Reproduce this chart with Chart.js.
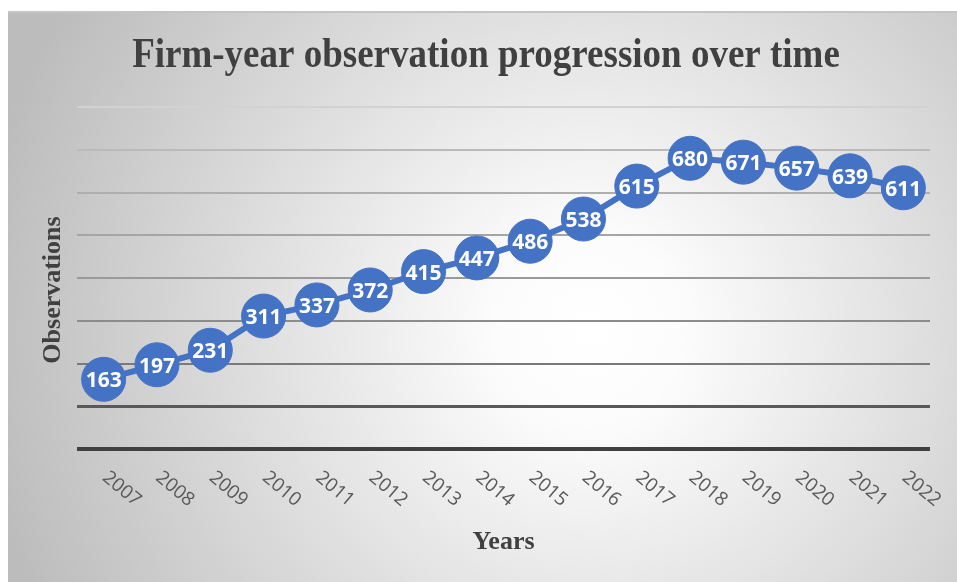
<!DOCTYPE html>
<html>
<head>
<meta charset="utf-8">
<script src="https://cdn.jsdelivr.net/npm/chart.js@4/dist/chart.umd.min.js"></script>
<style>
  html, body { margin: 0; padding: 0; background: #fff; }
  #wrap { width: 957px; height: 582px; }
</style>
</head>
<body>
<div id="wrap"><canvas id="obsChart" width="957" height="582"></canvas></div>
<script>
const chartTitle = "Firm-year observation progression over time";
const years = ["2007", "2008", "2009", "2010", "2011", "2012", "2013", "2014",
  "2015", "2016", "2017", "2018", "2019", "2020", "2021", "2022"];
const observations = [163, 197, 231, 311, 337, 372, 415, 447, 486, 538, 615, 680, 671, 657, 639, 611];
const yMin = 0, yMax = 800, yStep = 100;

const BLUE = "#4472C4";
// gridlines get darker toward the bottom, like the excel original
const gridShades = ["#404040", "#595959", "#7a7a7a", "#8c8c8c", "#9a9a9a", "#a5a5a5", "#afafaf", "#bababa", "#d2d2d2"];

const excelLook = {
  id: "excelLook",
  beforeDraw(chart) {
    const ctx = chart.ctx;
    ctx.save();
    const g = ctx.createRadialGradient(590, 330, 0, 590, 330, 620);
    g.addColorStop(0, "#ffffff");
    g.addColorStop(0.15, "#fcfcfc");
    g.addColorStop(1, "#bcbcbc");
    ctx.fillStyle = g;
    ctx.fillRect(8, 11, 949, 571);
    ctx.strokeStyle = "#c4c4c4";
    ctx.lineWidth = 2;
    ctx.beginPath();
    ctx.moveTo(8, 12); ctx.lineTo(957, 12);
    ctx.stroke();

    // title, a bit tall like the original
    ctx.fillStyle = "#404040";
    ctx.font = "bold 37px 'Liberation Serif'";
    ctx.textAlign = "center";
    ctx.textBaseline = "alphabetic";
    ctx.translate(486, 67);
    ctx.scale(1, 1.12);
    ctx.fillText(chartTitle, 0, 0);
    ctx.restore();
  },
  afterDatasetsDraw(chart) {
    const ctx = chart.ctx;
    const meta = chart.getDatasetMeta(0);
    ctx.save();
    ctx.fillStyle = "#ffffff";
    ctx.font = "bold 21px 'Open Sans'";
    ctx.textAlign = "center";
    ctx.textBaseline = "middle";
    meta.data.forEach((pt, i) => {
      ctx.fillText(String(observations[i]), pt.x, pt.y + 2);
    });
    ctx.restore();
  },
  afterDraw(chart) {
    const ctx = chart.ctx;
    const xs = chart.scales.x;
    const area = chart.chartArea;
    ctx.save();
    // year labels, tilted downward
    ctx.fillStyle = "#595959";
    ctx.font = "19px 'Open Sans'";
    ctx.textAlign = "center";
    ctx.textBaseline = "middle";
    years.forEach((y, i) => {
      const x = xs.getPixelForTick(i);
      ctx.save();
      ctx.translate(x + 18, area.bottom + 40);
      ctx.rotate(40 * Math.PI / 180);
      ctx.fillText(y, 0, 0);
      ctx.restore();
    });
    // axis titles
    ctx.fillStyle = "#404040";
    ctx.font = "bold 26px 'Liberation Serif'";
    ctx.fillText("Years", (area.left + area.right) / 2, 542);
    ctx.translate(53, 290);
    ctx.rotate(-Math.PI / 2);
    ctx.fillText("Observations", 0, 0);
    ctx.restore();
  }
};

new Chart(document.getElementById("obsChart").getContext("2d"), {
  type: "line",
  data: {
    labels: years,
    datasets: [{
      label: "Observations",
      data: observations,
      borderColor: BLUE,
      backgroundColor: BLUE,
      borderWidth: 6,
      pointRadius: 22,
      pointHoverRadius: 22,
      pointBackgroundColor: BLUE,
      pointBorderColor: BLUE,
      pointBorderWidth: 1,
      fill: false,
      tension: 0,
      clip: false
    }]
  },
  options: {
    responsive: false,
    animation: false,
    events: [],
    layout: { padding: { left: 8, right: 27, top: 107, bottom: 0 } },
    plugins: {
      legend: { display: false },
      tooltip: { enabled: false },
      title: { display: false }
    },
    scales: {
      x: {
        offset: true,
        grid: { display: false },
        border: { display: false },
        ticks: { display: false },
        afterFit: s => { s.height = 133; }
      },
      y: {
        min: yMin,
        max: yMax,
        ticks: { display: false, stepSize: yStep },
        border: { display: false },
        grid: {
          drawTicks: false,
          color: c => gridShades[Math.round(c.tick.value / yStep)] || "#bfbfbf",
          lineWidth: c => (c.tick.value === 0 ? 4 : (c.tick.value === 100 ? 3 : 2))
        },
        afterFit: s => { s.width = 69; }
      }
    }
  },
  plugins: [excelLook]
});
</script>
</body>
</html>
